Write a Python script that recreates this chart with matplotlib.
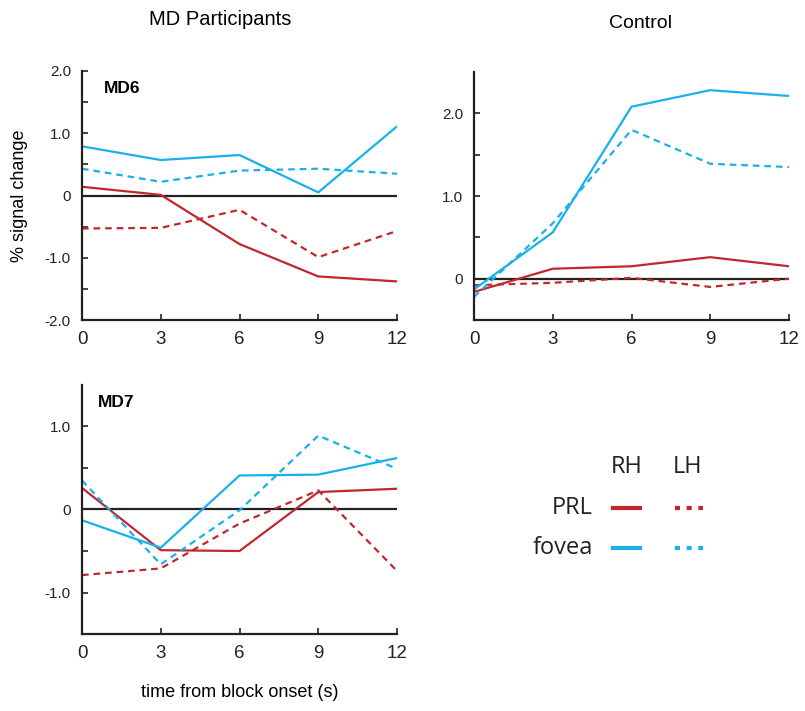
import matplotlib.pyplot as plt
from matplotlib.lines import Line2D

plt.rcParams['font.family'] = ['Liberation Sans', 'DejaVu Sans']

# time points (s)
times = [0, 3, 6, 9, 12]

# MD6
md6_rh_fovea = [0.79, 0.57, 0.65, 0.05, 1.11]
md6_lh_fovea = [0.43, 0.22, 0.40, 0.43, 0.35]
md6_rh_prl = [0.14, 0.01, -0.78, -1.30, -1.38]
md6_lh_prl = [-0.53, -0.52, -0.23, -0.99, -0.57]

# Control
ctl_rh_fovea = [-0.13, 0.56, 2.08, 2.28, 2.21]
ctl_lh_fovea = [-0.22, 0.67, 1.80, 1.39, 1.35]
ctl_rh_prl = [-0.16, 0.12, 0.15, 0.26, 0.15]
ctl_lh_prl = [-0.08, -0.05, 0.01, -0.10, 0.0]

# MD7
md7_rh_fovea = [-0.13, -0.46, 0.41, 0.42, 0.62]
md7_lh_fovea = [0.35, -0.66, -0.01, 0.89, 0.49]
md7_rh_prl = [0.26, -0.49, -0.50, 0.21, 0.25]
md7_lh_prl = [-0.79, -0.71, -0.17, 0.23, -0.74]

red = '#c1272d'
blue = '#1ab0ec'
dash = (0, (3, 2.2))

W, H = 805, 711
fig = plt.figure(figsize=(W / 100, H / 100), dpi=100)


def make_ax(left, top, right, bottom):
    return fig.add_axes([left / W, 1 - bottom / H, (right - left) / W, (bottom - top) / H])


def draw(ax, series, ylim, yticks, ylabels, minor):
    rh_f, lh_f, rh_p, lh_p = series
    ax.axhline(0, color='#222222', lw=1.6, zorder=1)
    ax.plot(times, rh_p, color=red, lw=1.6)
    ax.plot(times, lh_p, color=red, lw=1.6, ls=dash)
    ax.plot(times, rh_f, color=blue, lw=1.6)
    ax.plot(times, lh_f, color=blue, lw=1.6, ls=dash)
    ax.set_xlim(0, 12)
    ax.set_ylim(*ylim)
    ax.set_xticks(times)
    ax.set_yticks(yticks)
    ax.set_yticklabels(ylabels)
    ax.set_yticks(minor, minor=True)
    for s in ['top', 'right']:
        ax.spines[s].set_visible(False)
    for s in ['left', 'bottom']:
        ax.spines[s].set_linewidth(1.6)
        ax.spines[s].set_color('#222222')
    ax.tick_params(axis='x', direction='in', length=4, width=1.2, labelsize=13.5, pad=8, colors='#222222')
    ax.tick_params(axis='y', which='both', direction='in', length=4, width=1.2, labelsize=11, pad=8, colors='#222222')


ax1 = make_ax(82, 71, 397, 320)
draw(ax1, [md6_rh_fovea, md6_lh_fovea, md6_rh_prl, md6_lh_prl], (-2, 2),
     [-2, -1, 0, 1, 2], ['-2.0', '-1.0', '0', '1.0', '2.0'], [-1.5, -0.5, 0.5, 1.5])
ax1.text(0.07, 0.93, 'MD6', transform=ax1.transAxes, fontsize=12.5, fontweight='bold', va='center')
ax1.set_ylabel('% signal change', fontsize=13, labelpad=12)
ax1.set_title('MD Participants', fontsize=14.5, pad=33, x=0.44)

ax2 = make_ax(474, 72, 789, 320)
draw(ax2, [ctl_rh_fovea, ctl_lh_fovea, ctl_rh_prl, ctl_lh_prl], (-0.5, 2.5),
     [0, 1, 2], ['0', '1.0', '2.0'], [0.5, 1.5])
ax2.set_title('Control', fontsize=14, pad=32, x=0.53)

ax3 = make_ax(82, 385, 397, 634)
draw(ax3, [md7_rh_fovea, md7_lh_fovea, md7_rh_prl, md7_lh_prl], (-1.5, 1.5),
     [-1, 0, 1], ['-1.0', '0', '1.0'], [-0.5, 0.5])
ax3.text(0.05, 0.93, 'MD7', transform=ax3.transAxes, fontsize=12.5, fontweight='bold', va='center')
ax3.set_xlabel('time from block onset (s)', fontsize=13, labelpad=16)

# legend block
leg_font = ['Open Sans', 'DejaVu Sans']
fig.text(627 / W, 1 - 467 / H, 'RH', fontsize=17, ha='center', va='center', family=leg_font, color='#222222')
fig.text(688 / W, 1 - 467 / H, 'LH', fontsize=17, ha='center', va='center', family=leg_font, color='#222222')
rows = [('PRL', red, 508), ('fovea', blue, 548)]
for name, col, y in rows:
    fig.text(593 / W, 1 - y / H, name, fontsize=17, ha='right', va='center', family=leg_font, color='#222222')
    fig.add_artist(Line2D([613 / W, 640 / W], [1 - y / H, 1 - y / H], color=col, lw=3))
    fig.add_artist(Line2D([675 / W, 703 / W], [1 - y / H, 1 - y / H], color=col, lw=3, ls=(0, (1.2, 1.6))))

fig.savefig('out.png', dpi=100)
